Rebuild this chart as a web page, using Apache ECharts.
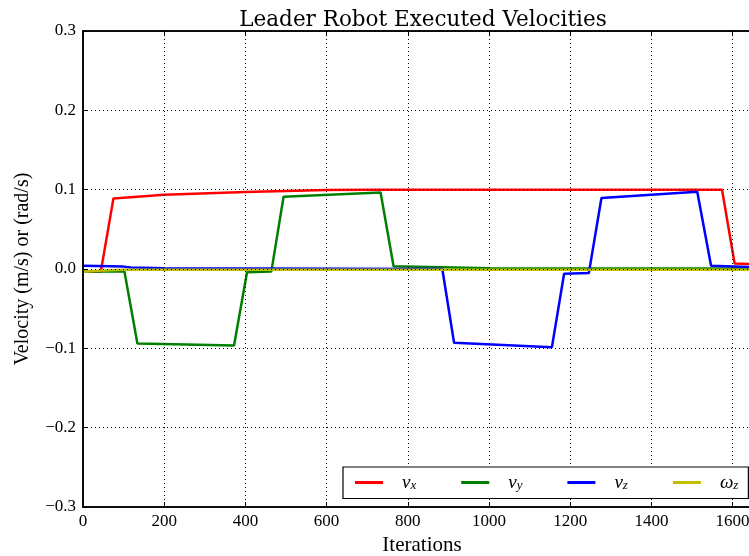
<!DOCTYPE html>
<html>
<head>
<meta charset="utf-8">
<script src="https://cdn.jsdelivr.net/npm/echarts@6/dist/echarts.min.js"></script>
<style>
  html, body { margin: 0; padding: 0; background: #fff; }
  #chart { width: 749px; height: 556px; }
</style>
</head>
<body>
<div id="chart"></div>
<script>
// Executed velocity commands of the leader robot, sampled at breakpoints (iteration, value)
const vxIter = [0, 20, 44, 75, 200, 400, 600, 700, 1000, 1300, 1574, 1605, 1670];
const vxVals = [-0.002, -0.003, -0.003, 0.089, 0.0935, 0.097, 0.0995, 0.1, 0.1, 0.1, 0.1, 0.007, 0.006];

const vyIter = [0, 102, 134, 372, 404, 464, 494, 733, 765, 1000, 1670];
const vyVals = [-0.003, -0.003, -0.094, -0.0965, -0.004, -0.003, 0.091, 0.0965, 0.0035, 0.001, 0.0005];

const vzIter = [0, 100, 118, 200, 885, 914, 1155, 1185, 1246, 1277, 1513, 1547, 1670];
const vzVals = [0.004, 0.003, 0.002, 0.001, 0.0, -0.093, -0.0985, -0.006, -0.005, 0.0895, 0.0975, 0.004, 0.002];

const wzIter = [0, 50, 100, 1670];
const wzVals = [-0.003, -0.002, -0.0008, -0.001];

const seriesNames = ['vx', 'vy', 'vz', 'wz'];
const legendLabels = {
  vx: '{n|ν}{s|x}',
  vy: '{n|ν}{s|y}',
  vz: '{n|ν}{s|z}',
  wz: '{n|ω}{s|z}'
};
const colors = ['#ff0000', '#008000', '#0000ff', '#bfbf00'];

const xTicks = { min: 0, max: 1670, interval: 200 };
const yTicks = { min: -0.3, max: 0.3, interval: 0.1 };

function pairs(xs, ys) { return xs.map((x, i) => [x, ys[i]]); }

const serif = '"Liberation Serif", "DejaVu Serif", serif';
const gridDots = { color: '#000', width: 1, type: [1, 3] };
const inTicks = { show: true, inside: true, length: 5, lineStyle: { color: '#000', width: 1 } };

const chart = echarts.init(document.getElementById('chart'), null, { renderer: 'canvas' });

const data = [pairs(vxIter, vxVals), pairs(vyIter, vyVals), pairs(vzIter, vzVals), pairs(wzIter, wzVals)];

chart.setOption({
  animation: false,
  backgroundColor: '#fff',
  title: {
    text: 'Leader Robot Executed Velocities',
    left: 418,
    textAlign: 'center',
    top: 4,
    textStyle: { fontFamily: '"DejaVu Serif", serif', fontSize: 21.5, fontWeight: 'normal', color: '#000' }
  },
  grid: {
    left: 83, top: 31, height: 476, width: 678,
    outerBoundsMode: 'none',
    containLabel: false,
    show: true, borderColor: '#000', borderWidth: 1.5, backgroundColor: 'transparent'
  },
  legend: {
    data: seriesNames,
    left: 343, top: 467,
    z: 20,
    orient: 'horizontal',
    padding: [6, 10, 6, 12],
    borderColor: '#000', borderWidth: 1.2, backgroundColor: '#fff',
    itemWidth: 28, itemHeight: 3, itemGap: 45,
    icon: 'rect',
    formatter: name => legendLabels[name],
    textStyle: {
      padding: [0, 0, 0, 14],
      rich: {
        n: { fontFamily: serif, fontStyle: 'italic', fontSize: 19, lineHeight: 20, verticalAlign: 'middle', color: '#000' },
        s: { fontFamily: serif, fontStyle: 'italic', fontSize: 13, lineHeight: 10, verticalAlign: 'bottom', color: '#000' }
      }
    }
  },
  xAxis: [{
    type: 'value',
    z: 10,
    min: xTicks.min, max: xTicks.max, interval: xTicks.interval,
    name: 'Iterations',
    nameLocation: 'middle', nameGap: 25,
    nameTextStyle: { fontFamily: serif, fontSize: 21, color: '#000' },
    axisLine: { show: true, onZero: false, lineStyle: { color: '#000', width: 1.5 } },
    axisTick: inTicks,
    axisLabel: { fontFamily: serif, fontSize: 17, color: '#000', margin: 6, formatter: v => String(v) },
    splitLine: { show: true, lineStyle: gridDots }
  }, {
    type: 'value', position: 'top',
    z: 10,
    min: xTicks.min, max: xTicks.max, interval: xTicks.interval,
    axisLine: { show: true, onZero: false, lineStyle: { color: '#000', width: 1.5 } },
    axisTick: inTicks,
    axisLabel: { show: false },
    splitLine: { show: false }
  }],
  yAxis: {
    type: 'value',
    z: 10,
    min: yTicks.min, max: yTicks.max, interval: yTicks.interval,
    name: 'Velocity (m/s) or (rad/s)',
    nameLocation: 'middle', nameGap: 50, nameRotate: 90,
    nameTextStyle: { fontFamily: serif, fontSize: 20, color: '#000' },
    axisLine: { show: true, onZero: false, lineStyle: { color: '#000', width: 1.5 } },
    axisTick: inTicks,
    axisLabel: {
      fontFamily: serif, fontSize: 17, color: '#000', margin: 7,
      formatter: v => {
        const r = Math.round(v * 10) / 10;
        return r < 0 ? '\u2212' + Math.abs(r).toFixed(1) : r.toFixed(1);
      }
    },
    splitLine: { show: true, lineStyle: gridDots }
  },
  series: seriesNames.map((name, i) => ({
    name: name,
    type: 'line',
    data: data[i],
    showSymbol: false,
    symbol: 'none',
    color: colors[i],
    lineStyle: { color: colors[i], width: 2.5 },
    z: 2 + i
  }))
});
</script>
</body>
</html>
